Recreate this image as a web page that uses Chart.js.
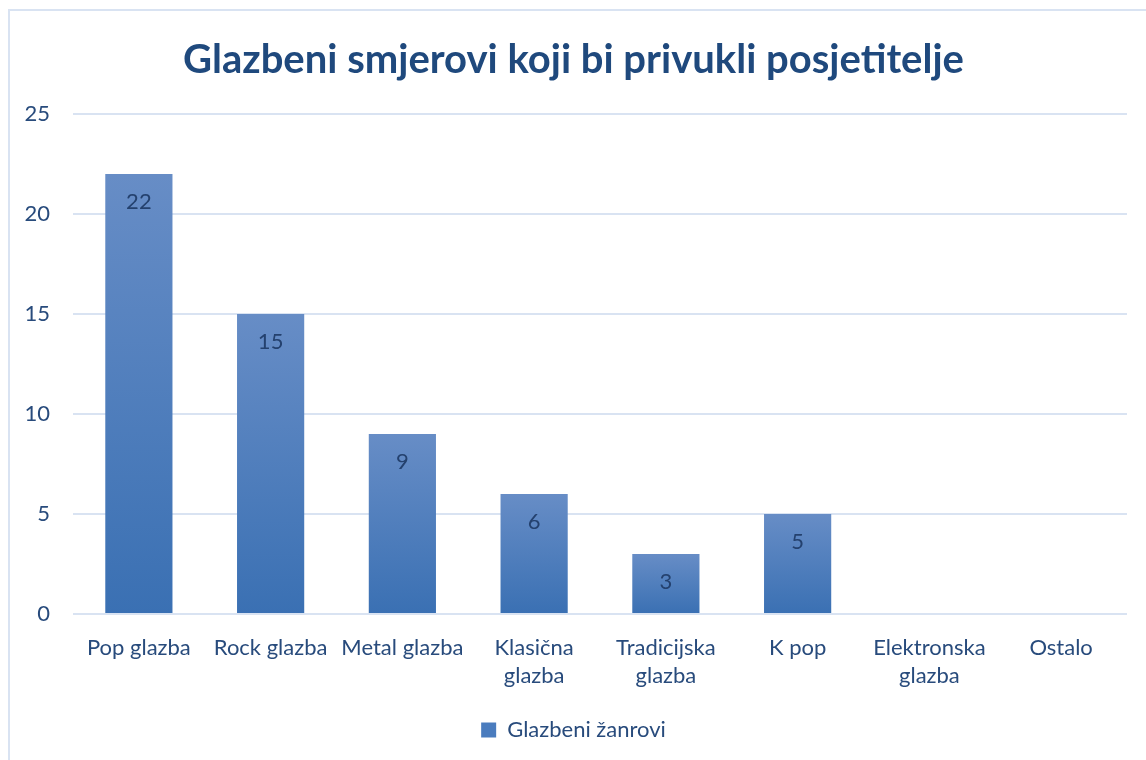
<!DOCTYPE html>
<html><head><meta charset="utf-8">
<script src="https://cdn.jsdelivr.net/npm/chart.js@4.4.1/dist/chart.umd.min.js"></script>
<style>
html,body{margin:0;padding:0;background:#fff;overflow:hidden}
#frame{position:absolute;left:8px;top:9px;width:1200px;height:800px;border:2px solid #D9E3F2;box-sizing:border-box}
#wrap{position:absolute;left:0;top:0;width:1146px;height:760px}
</style></head>
<body>
<div id="frame"></div>
<div id="wrap"><canvas id="c" width="1146" height="760"></canvas></div>
<script>
const categories = ["Pop glazba","Rock glazba","Metal glazba",["Klasična","glazba"],["Tradicijska","glazba"],"K pop",["Elektronska","glazba"],"Ostalo"];
const values = [22,15,9,6,3,5,null,null];
const seriesName = "Glazbeni žanrovi";
const chartTitle = "Glazbeni smjerovi koji bi privukli posjetitelje";
const FONT = "Lato, 'Open Sans', sans-serif";
const TEXT = "#284B7C";

const valueLabels = {
  id:'valueLabels',
  afterDatasetsDraw(chart){
    const ctx = chart.ctx;
    const meta = chart.getDatasetMeta(0);
    ctx.save();
    ctx.font = "22px " + FONT;
    ctx.fillStyle = "#24416E";
    ctx.textAlign = "center";
    ctx.textBaseline = "middle";
    meta.data.forEach((bar,i)=>{
      const v = values[i];
      if (v === null || v === undefined) return;
      ctx.fillText(String(v), bar.x, bar.y + 28);
    });
    ctx.restore();
  }
};

new Chart(document.getElementById('c'), {
  type:'bar',
  data:{
    labels: categories,
    datasets:[{
      label: seriesName,
      data: values,
      backgroundColor(context){
        const chart = context.chart;
        const v = context.raw;
        if (!chart.chartArea || v === null || v === undefined) return '#4A7CBE';
        const y = chart.scales.y;
        const g = chart.ctx.createLinearGradient(0, y.getPixelForValue(v), 0, y.getPixelForValue(0));
        g.addColorStop(0, '#678DC6');
        g.addColorStop(1, '#3A70B3');
        return g;
      },
      borderWidth:0,
      categoryPercentage:1.0,
      barPercentage:0.51
    }]
  },
  options:{
    responsive:false,
    animation:false,
    devicePixelRatio:1,
    layout:{padding:{left:20,right:19,top:9,bottom:9}},
    plugins:{
      title:{
        display:true,
        text: chartTitle,
        color:'#1F497D',
        font:{family:FONT,size:40,weight:'bold'},
        padding:{top:27,bottom:30}
      },
      legend:{
        position:'bottom',
        labels:{
          font:{family:FONT,size:22},
          color:TEXT,
          boxWidth:15,
          boxHeight:15,
          padding:12,
          generateLabels(chart){
            return [{text:seriesName, fillStyle:'#4A7CBE', strokeStyle:'#4A7CBE', lineWidth:0, fontColor:TEXT, datasetIndex:0, hidden:false}];
          }
        }
      },
      tooltip:{enabled:false}
    },
    scales:{
      x:{
        grid:{display:false},
        border:{display:false},
        ticks:{font:{family:FONT,size:22,lineHeight:1.27},color:TEXT,maxRotation:0,autoSkip:false,padding:12},
        afterFit(s){ s.height = 93; }
      },
      y:{
        min:0,max:25,
        ticks:{stepSize:5,font:{family:FONT,size:22},color:TEXT,padding:23},
        grid:{color:'#D9E3F2',lineWidth:2,drawTicks:false},
        border:{display:false},
        afterFit(s){ s.width = 53; }
      }
    }
  },
  plugins:[valueLabels]
});
</script>
</body></html>
